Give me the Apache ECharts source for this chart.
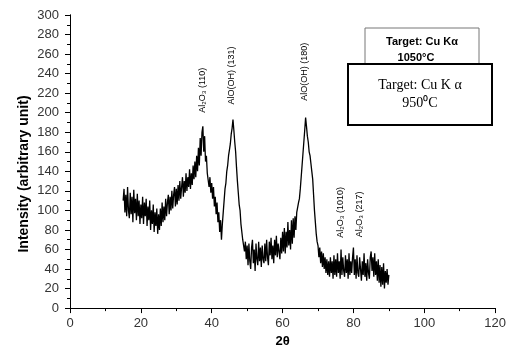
<!DOCTYPE html>
<html>
<head>
<meta charset="utf-8">
<script src="https://cdn.jsdelivr.net/npm/echarts@6/dist/echarts.min.js"></script>
<style>
  html, body { margin: 0; padding: 0; background: #fff; }
  #chart { width: 509px; height: 353px; }
</style>
</head>
<body>
<div id="chart"></div>
<script>
// scan starts at 15 deg and steps 0.25 deg, one intensity per step
const thetaStart = 15;
const thetaStep = 0.25;

// intensity, one row per 5 degrees
const int15 = [110,122,98,116,94,124,100,92,118,96,114,88,121,97,112,90,117,94,110,86];
const int20 = [106,92,114,86,108,94,112,84,104,90,110,80,100,86,106,78,98,84,102,76];
const int25 = [96,80,102,84,108,88,104,90,112,94,108,116,96,114,100,120,102,116,124,104];
const int30 = [122,106,126,110,130,112,124,134,114,130,118,138,120,134,124,142,122,138,126,146];
const int35 = [132,150,134,156,140,164,146,174,156,180,186,160,176,150,156,138,140,124,134,118];
const int40 = [128,112,124,104,114,96,108,88,98,78,90,70,86,98,110,122,128,140,146,156];
const int45 = [162,168,178,184,193,182,170,160,144,130,118,106,100,86,84,70,72,58,68,50];
const int50 = [64,44,66,48,40,62,70,46,60,38,66,50,44,68,48,62,42,64,50,46];
const int55 = [66,48,70,52,44,68,54,72,50,64,46,70,54,74,52,66,68,50,72,56];
const int60 = [78,58,82,56,78,62,88,64,80,60,90,66,92,72,94,80,98,100,108,112];
const int65 = [122,134,146,158,170,182,195,186,176,170,160,156,148,140,132,116,100,88,76,68];
const int70 = [64,52,62,46,58,42,56,40,52,36,50,34,48,32,52,36,48,30,54,34];
const int75 = [50,32,56,36,48,30,60,34,52,38,32,54,36,50,30,56,34,48,36,52];
const int80 = [62,34,50,30,54,36,32,52,40,28,48,34,56,32,46,28,50,36,30,52];
const int85 = [58,38,52,32,56,34,48,28,50,26,44,22,42,24,46,20,38,26,40,24,34];

// axis ticks
const xTicks = [0, 20, 40, 60, 80, 100, 120];
const yTicks = [0, 20, 40, 60, 80, 100, 120, 140, 160, 180, 200, 220, 240, 260, 280, 300];

// peak labels: [theta, intensity where the label's centre sits, text]
const peakLabels = [
    [37.5, 223, 'Al₂O₃ (110)'],
    [45.6, 238, 'AlO(OH) (131)'],
    [66.3, 242, 'AlO(OH) (180)'],
    [76.3, 98, 'Al₂O₃ (1010)'],
    [81.7, 96, 'Al₂O₃ (217)']
];

const intensity = [].concat(int15, int20, int25, int30, int35, int40, int45,
    int50, int55, int60, int65, int70, int75, int80, int85);
const pattern = intensity.map((v, i) => [thetaStart + i * thetaStep, v]);

const chart = echarts.init(document.getElementById('chart'), null, { renderer: 'canvas' });

const tickFont = { color: '#333', fontSize: 13, fontFamily: 'Liberation Sans, Arial, sans-serif' };

const option = {
    animation: false,
    backgroundColor: '#fff',
    grid: { left: 70, right: 10, top: 15, bottom: 41, containLabel: false },
    xAxis: [
        {
            type: 'value', min: xTicks[0], max: xTicks[xTicks.length - 1], interval: 20,
            name: '2θ', nameLocation: 'middle', nameGap: 22,
            nameTextStyle: { color: '#000', fontSize: 13, fontWeight: 'bold', fontFamily: 'Liberation Sans, Arial, sans-serif' },
            axisLine: { lineStyle: { color: '#000', width: 1 } },
            axisTick: { inside: false, length: 5, lineStyle: { color: '#000' } },
            minorTick: { show: true, splitNumber: 2, length: 3, lineStyle: { color: '#000' } },
            axisLabel: Object.assign({ margin: 9 }, tickFont),
            splitLine: { show: false }
        },
        {
            type: 'value', position: 'top', min: xTicks[0], max: xTicks[xTicks.length - 1], interval: 20,
            axisLine: { lineStyle: { color: '#000', width: 1 } },
            axisTick: { inside: true, length: 4, lineStyle: { color: '#000' } },
            axisLabel: { show: false },
            splitLine: { show: false }
        }
    ],
    yAxis: [
        {
            type: 'value', min: yTicks[0], max: yTicks[yTicks.length - 1], interval: 20,
            axisLine: { show: true, lineStyle: { color: '#000', width: 1 } },
            axisTick: { show: true, inside: false, length: 5, lineStyle: { color: '#000' } },
            minorTick: { show: true, splitNumber: 2, length: 3, lineStyle: { color: '#000' } },
            axisLabel: Object.assign({ margin: 11 }, tickFont),
            splitLine: { show: false }
        },
        {
            type: 'value', position: 'right', min: yTicks[0], max: yTicks[yTicks.length - 1], interval: 20,
            axisLine: { show: true, lineStyle: { color: '#000', width: 1 } },
            axisTick: { show: true, inside: true, length: 4, lineStyle: { color: '#000' } },
            axisLabel: { show: false },
            splitLine: { show: false }
        }
    ],
    series: [
        {
            type: 'line',
            data: pattern,
            showSymbol: false,
            lineStyle: { color: '#000', width: 1.3 },
            silent: true
        }
    ]
};

chart.setOption(option);

// annotations placed from data coordinates
const graphics = [];
peakLabels.forEach(([t, v, txt]) => {
    const p = chart.convertToPixel({ gridIndex: 0 }, [t, v]);
    graphics.push({
        type: 'text', x: p[0], y: p[1], rotation: Math.PI / 2,
        style: {
            text: txt, fill: '#000', font: '9px "Liberation Sans", Arial, sans-serif',
            align: 'center', verticalAlign: 'middle'
        },
        z: 10
    });
});

// y axis title, sits a bit below the axis middle as in the picture
graphics.push({
    type: 'text', x: 24, y: 174, rotation: Math.PI / 2,
    style: {
        text: 'Intensity (arbitrary unit)', fill: '#000',
        font: 'bold 14px "Liberation Sans", Arial, sans-serif', align: 'center', verticalAlign: 'middle'
    },
    z: 10
});

// 1050 C box (grey, behind)
graphics.push({
    type: 'rect', shape: { x: 365, y: 28, width: 114, height: 40 },
    style: { fill: '#fff', stroke: '#777', lineWidth: 1 }, z: 11
});
graphics.push({
    type: 'text', x: 422, y: 42,
    style: { text: 'Target: Cu Kα', fill: '#000', font: 'bold 11px "Liberation Sans", Arial, sans-serif', align: 'center', verticalAlign: 'middle' },
    z: 12
});
graphics.push({
    type: 'text', x: 416, y: 58,
    style: { text: '1050°C', fill: '#000', font: 'bold 11px "Liberation Sans", Arial, sans-serif', align: 'center', verticalAlign: 'middle' },
    z: 12
});
// 950 C box (black, front)
graphics.push({
    type: 'rect', shape: { x: 348, y: 64, width: 144, height: 61 },
    style: { fill: '#fff', stroke: '#000', lineWidth: 2 }, z: 13
});
graphics.push({
    type: 'text', x: 420, y: 85,
    style: { text: 'Target: Cu K α', fill: '#000', font: '14px "Liberation Serif", "Times New Roman", serif', align: 'center', verticalAlign: 'middle' },
    z: 14
});
graphics.push({
    type: 'text', x: 420, y: 103,
    style: { text: '950⁰C', fill: '#000', font: '14px "Liberation Serif", "Times New Roman", serif', align: 'center', verticalAlign: 'middle' },
    z: 14
});

chart.setOption({ graphic: graphics });
</script>
</body>
</html>
